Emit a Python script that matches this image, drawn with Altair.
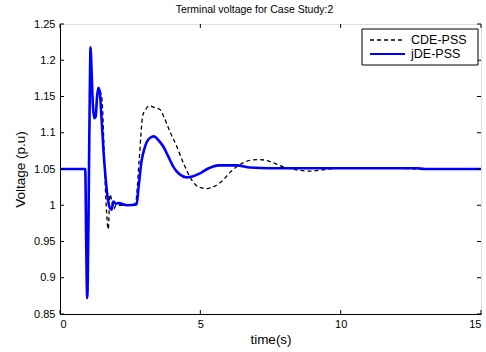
import altair as alt
import pandas as pd

# ---- data ----
t_cde = [0, 0.90, 0.93, 0.97, 0.99, 1.02, 1.06, 1.09, 1.12, 1.17, 1.22, 1.27, 1.32, 1.37,
         1.43, 1.50, 1.55, 1.60, 1.66, 1.72, 1.78, 1.85, 1.92, 2.00, 2.30, 2.60, 2.70,
         2.82, 2.95, 3.05, 3.18, 3.35, 3.56, 3.70, 3.90, 4.16, 4.40, 4.69, 4.95, 5.23,
         5.50, 5.82, 6.05, 6.29, 6.50, 6.77, 7.13, 7.50, 7.95, 8.40, 8.90, 9.40, 9.86,
         10.5, 11.2, 12.0, 13.0, 15.0]
v_cde = [1.05, 1.05, 0.96, 0.872, 0.90, 1.00, 1.15, 1.218, 1.19, 1.14, 1.12, 1.122, 1.15, 1.162,
         1.158, 1.145, 1.10, 1.04, 0.99, 0.967, 1.015, 1.005, 0.995, 1.0, 1.0, 1.0, 1.005,
         1.062, 1.124, 1.132, 1.137, 1.135, 1.132, 1.122, 1.103, 1.081, 1.058, 1.035, 1.025, 1.023,
         1.026, 1.035, 1.045, 1.053, 1.058, 1.062, 1.063, 1.060, 1.053, 1.049, 1.047, 1.049, 1.051,
         1.052, 1.052, 1.051, 1.050, 1.050]

t_jde = [0, 0.90, 0.93, 0.97, 0.99, 1.02, 1.06, 1.09, 1.12, 1.17, 1.22, 1.27, 1.32, 1.37,
         1.42, 1.48, 1.55, 1.62, 1.70, 1.78, 1.84, 1.90, 2.00, 2.08, 2.40, 2.73, 2.80,
         2.91, 3.00, 3.10, 3.25, 3.35, 3.50, 3.68, 3.85, 4.04, 4.25, 4.51, 4.75, 4.99,
         5.30, 5.64, 6.00, 6.29, 6.77, 7.50, 9.00, 11.0, 12.7, 13.0, 15.0]
v_jde = [1.05, 1.05, 0.96, 0.872, 0.90, 1.00, 1.15, 1.218, 1.19, 1.14, 1.12, 1.122, 1.15, 1.162,
         1.155, 1.12, 1.075, 1.04, 1.01, 0.996, 0.994, 1.005, 1.002, 1.003, 1.0, 1.001, 1.025,
         1.062, 1.077, 1.088, 1.094, 1.095, 1.090, 1.081, 1.068, 1.053, 1.043, 1.0385, 1.040, 1.044,
         1.051, 1.055, 1.055, 1.055, 1.052, 1.051, 1.051, 1.051, 1.051, 1.050, 1.050]

x_ticks = [0, 5, 10, 15]
y_ticks = [0.85, 0.9, 0.95, 1.0, 1.05, 1.1, 1.15, 1.2, 1.25]
series_names = ["CDE-PSS", "jDE-PSS"]
title_text = "Terminal voltage for Case Study:2"
x_title = "time(s)"
y_title = "Voltage (p.u)"

# ---- styling ----
W, H = 421, 290
FONT = "Liberation Sans"
TICK = 4

xs = alt.Scale(domain=[0, 15], nice=False, zero=False)
ys = alt.Scale(domain=[0.85, 1.25], nice=False, zero=False)

common_axis = dict(grid=False, ticks=False, domainColor="black", domainWidth=1,
                   labelColor="black", titleColor="black", labelFont=FONT, titleFont=FONT,
                   labelFontSize=11, titleFontSize=13.5, titleFontWeight="normal")
x_axis = alt.Axis(values=x_ticks, title=x_title, labelPadding=4, titlePadding=3,
                  format="~g", **common_axis)
y_axis = alt.Axis(values=y_ticks, title=y_title, labelPadding=5, titlePadding=6,
                  format=".2~f", **common_axis)

df_c = pd.DataFrame({"t": t_cde, "v": v_cde})
df_j = pd.DataFrame({"t": t_jde, "v": v_jde})
df_xt = pd.DataFrame({"xt": x_ticks})
df_yt = pd.DataFrame({"yt": y_ticks})

X = alt.X("t:Q", scale=xs, axis=x_axis)
Y = alt.Y("v:Q", scale=ys, axis=y_axis)

cde = alt.Chart(df_c).mark_line(color="black", strokeWidth=1.3, strokeDash=[4, 3],
                                interpolate="monotone").encode(x=X, y=Y)
jde = alt.Chart(df_j).mark_line(color="#0000ff", strokeWidth=2.6,
                                interpolate="monotone").encode(x=X, y=Y)

# inward ticks on all four sides
xt_bottom = alt.Chart(df_xt).mark_rule(color="black", strokeWidth=1).encode(
    x=alt.X("xt:Q", scale=xs, axis=x_axis), y=alt.value(H), y2=alt.value(H - TICK))
xt_top = alt.Chart(df_xt).mark_rule(color="black", strokeWidth=1).encode(
    x=alt.X("xt:Q", scale=xs, axis=x_axis), y=alt.value(0), y2=alt.value(TICK))
yt_left = alt.Chart(df_yt).mark_rule(color="black", strokeWidth=1).encode(
    y=alt.Y("yt:Q", scale=ys, axis=y_axis), x=alt.value(0), x2=alt.value(TICK))
yt_right = alt.Chart(df_yt).mark_rule(color="black", strokeWidth=1).encode(
    y=alt.Y("yt:Q", scale=ys, axis=y_axis), x=alt.value(W), x2=alt.value(W - TICK))

# legend (MATLAB-style box)
df_leg = pd.DataFrame({"name": series_names})
leg_box = alt.Chart(df_leg.head(1)).mark_rect(fill="white", stroke="black", strokeWidth=1).encode(
    x=alt.value(302), x2=alt.value(418), y=alt.value(5), y2=alt.value(41))
leg_l1 = alt.Chart(df_leg.head(1)).mark_rule(color="black", strokeWidth=1.3, strokeDash=[4, 3]).encode(
    x=alt.value(310), x2=alt.value(345), y=alt.value(16))
leg_l2 = alt.Chart(df_leg.head(1)).mark_rule(color="#0000ff", strokeWidth=2.2).encode(
    x=alt.value(310), x2=alt.value(345), y=alt.value(30))
leg_t1 = alt.Chart(df_leg.iloc[[0]]).mark_text(align="left", baseline="middle", font=FONT,
                                                fontSize=12.5, color="black").encode(
    x=alt.value(351), y=alt.value(16), text="name:N")
leg_t2 = alt.Chart(df_leg.iloc[[1]]).mark_text(align="left", baseline="middle", font=FONT,
                                                fontSize=12.5, color="black").encode(
    x=alt.value(351), y=alt.value(30), text="name:N")

chart = alt.layer(
    cde, jde, xt_bottom, xt_top, yt_left, yt_right,
    leg_box, leg_l1, leg_l2, leg_t1, leg_t2
).properties(
    width=W, height=H,
    title=alt.TitleParams(title_text, font=FONT, fontSize=10.5, fontWeight="normal",
                          color="black", anchor="middle", dx=-16, offset=3),
    padding={"left": 60, "top": 24, "right": 5, "bottom": 38},
    autosize="none",
).configure_view(stroke="black", strokeWidth=1).configure(background="white")

chart.save("out.html", embed_options={"renderer": "svg", "actions": False})
